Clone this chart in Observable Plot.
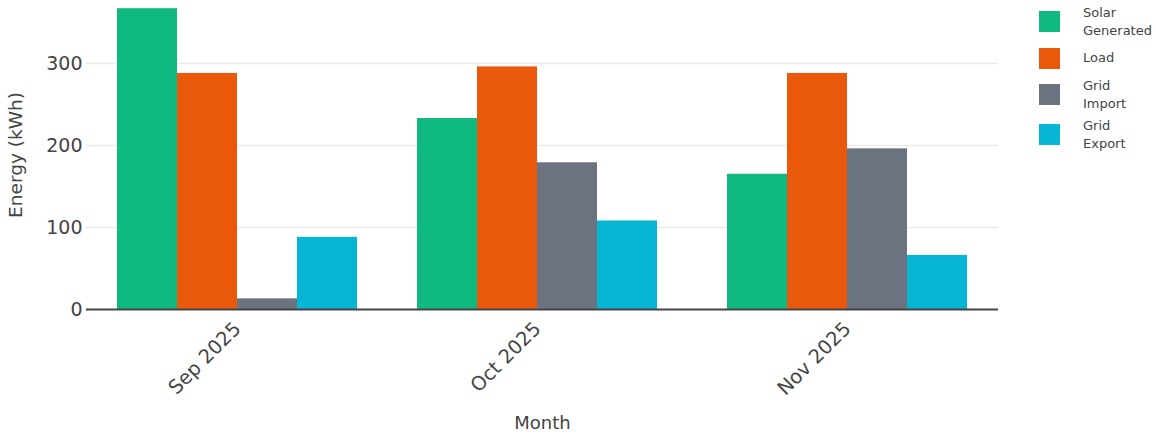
<!DOCTYPE html>
<html><head><meta charset="utf-8">
<script src="https://cdn.jsdelivr.net/npm/d3@7"></script>
<script src="https://cdn.jsdelivr.net/npm/@observablehq/plot@0.6"></script>
<style>
body{margin:0;background:#fff;font-family:"DejaVu Sans",Verdana,sans-serif;}
#wrap{position:relative;width:1156px;height:436px;}
#legend{position:absolute;left:1039px;top:1.5px;color:#444;font-size:13px;line-height:17.5px;}
.item{display:flex;align-items:center;}
.sw{width:21px;height:21px;margin-right:23px;flex:none;}
</style></head><body><div id="wrap"><div id="chart"></div><div id="legend"></div></div>
<script>
const months = ["2025-09-01", "2025-10-01", "2025-11-01"];
const monthLabels = ["Sep 2025", "Oct 2025", "Nov 2025"];
const series = ["Solar Generated", "Load", "Grid Import", "Grid Export"];
const legendLabels = [["Solar", "Generated"], ["Load"], ["Grid", "Import"], ["Grid", "Export"]];
const colors = ["#10b981", "#ea580c", "#6b7280", "#06b6d4"];
const solar = [367, 233, 165];
const load = [288, 296, 288];
const gridImport = [13, 179, 196];
const gridExport = [88, 108, 66];
const yTicks = [0, 100, 200, 300];

const DAY = 864e5;
const monthDates = months.map(m => new Date(m + "T00:00:00Z"));
const labelOf = new Map(monthDates.map((d, i) => [+d, monthLabels[i]]));
const valuesBySeries = [solar, load, gridImport, gridExport];
// Plotly-style grouped bars on a date axis: group = 0.8 of 30-day spacing
const groupDays = 24, barDays = groupDays / series.length;
const data = [];
monthDates.forEach((d, i) => {
  series.forEach((s, j) => {
    const start = +d + (-groupDays / 2 + j * barDays) * DAY;
    data.push({month: d, series: s, value: valuesBySeries[j][i],
      x1: new Date(start), x2: new Date(start + barDays * DAY)});
  });
});

const chart = Plot.plot({
  width: 1156, height: 436,
  marginLeft: 86, marginRight: 158, marginTop: 0, marginBottom: 127,
  style: {fontFamily: "'DejaVu Sans', Verdana, sans-serif", fontSize: "18px", color: "#444", background: "transparent"},
  x: {type: "utc", domain: [new Date(+monthDates[0] - 15.1 * DAY), new Date(+monthDates[2] + 15.1 * DAY)]},
  y: {domain: [0, 377]},
  color: {domain: series, range: colors},
  marks: [
    Plot.gridY(yTicks.slice(1), {stroke: "#ebebeb", strokeOpacity: 1, strokeWidth: 1.5}),
    Plot.rectY(data, {x1: "x1", x2: "x2", y: "value", fill: "series"}),
    Plot.ruleY([0], {stroke: "#444", strokeWidth: 2}),
    Plot.axisY(yTicks, {tickSize: 0, tickPadding: 4, fontSize: 19, label: null}),
    Plot.axisY({label: "Energy (kWh)", ticks: [], tickSize: 0, fontSize: 18.5, labelAnchor: "center", labelArrow: "none", labelOffset: 78}),
    Plot.axisX(monthDates, {tickSize: 0, tickRotate: -45, tickPadding: 16, tickFormat: d => labelOf.get(+d), fontSize: 19.5, label: null}),
    Plot.axisX({label: "Month", ticks: [], tickSize: 0, fontSize: 18, labelAnchor: "center", labelArrow: "none", labelOffset: 119})
  ]
});
document.getElementById("chart").append(chart);

const legend = document.getElementById("legend");
legendLabels.forEach((lines, j) => {
  const item = document.createElement("div");
  item.className = "item";
  item.style.height = (26 + 7 * lines.length) + "px";
  const sw = document.createElement("div");
  sw.className = "sw";
  sw.style.background = colors[j];
  const tx = document.createElement("div");
  tx.innerHTML = lines.join("<br>");
  item.append(sw, tx);
  legend.append(item);
});
</script></body></html>
